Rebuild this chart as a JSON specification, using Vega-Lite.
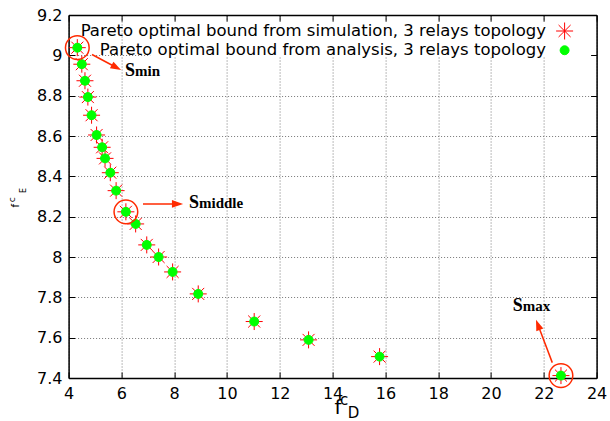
{
  "$schema": "https://vega.github.io/schema/vega-lite/v6.json",
  "width": 528,
  "height": 363,
  "autosize": {"type": "none"},
  "padding": {"left": 68.6, "top": 15, "right": 13.4, "bottom": 43},
  "background": "white",
  "config": {"view": {"stroke": null}},
  "datasets": {
    "pts": [
      {"series": "Pareto optimal bound from simulation, 3 relays topology", "fD": 4.33, "fE": 9.038},
      {"series": "Pareto optimal bound from simulation, 3 relays topology", "fD": 4.50, "fE": 8.956},
      {"series": "Pareto optimal bound from simulation, 3 relays topology", "fD": 4.62, "fE": 8.874},
      {"series": "Pareto optimal bound from simulation, 3 relays topology", "fD": 4.73, "fE": 8.793},
      {"series": "Pareto optimal bound from simulation, 3 relays topology", "fD": 4.87, "fE": 8.703},
      {"series": "Pareto optimal bound from simulation, 3 relays topology", "fD": 5.06, "fE": 8.605},
      {"series": "Pareto optimal bound from simulation, 3 relays topology", "fD": 5.27, "fE": 8.544},
      {"series": "Pareto optimal bound from simulation, 3 relays topology", "fD": 5.38, "fE": 8.489},
      {"series": "Pareto optimal bound from simulation, 3 relays topology", "fD": 5.58, "fE": 8.418},
      {"series": "Pareto optimal bound from simulation, 3 relays topology", "fD": 5.80, "fE": 8.329},
      {"series": "Pareto optimal bound from simulation, 3 relays topology", "fD": 6.17, "fE": 8.224},
      {"series": "Pareto optimal bound from simulation, 3 relays topology", "fD": 6.54, "fE": 8.164},
      {"series": "Pareto optimal bound from simulation, 3 relays topology", "fD": 6.96, "fE": 8.060},
      {"series": "Pareto optimal bound from simulation, 3 relays topology", "fD": 7.41, "fE": 8.000},
      {"series": "Pareto optimal bound from simulation, 3 relays topology", "fD": 7.94, "fE": 7.926},
      {"series": "Pareto optimal bound from simulation, 3 relays topology", "fD": 8.91, "fE": 7.817},
      {"series": "Pareto optimal bound from simulation, 3 relays topology", "fD": 11.03, "fE": 7.680},
      {"series": "Pareto optimal bound from simulation, 3 relays topology", "fD": 13.09, "fE": 7.589},
      {"series": "Pareto optimal bound from simulation, 3 relays topology", "fD": 15.78, "fE": 7.506},
      {"series": "Pareto optimal bound from simulation, 3 relays topology", "fD": 22.65, "fE": 7.412},
      {"series": "Pareto optimal bound from analysis, 3 relays topology", "fD": 4.33, "fE": 9.038, "note": "Smin"},
      {"series": "Pareto optimal bound from analysis, 3 relays topology", "fD": 4.50, "fE": 8.956},
      {"series": "Pareto optimal bound from analysis, 3 relays topology", "fD": 4.62, "fE": 8.874},
      {"series": "Pareto optimal bound from analysis, 3 relays topology", "fD": 4.73, "fE": 8.793},
      {"series": "Pareto optimal bound from analysis, 3 relays topology", "fD": 4.87, "fE": 8.703},
      {"series": "Pareto optimal bound from analysis, 3 relays topology", "fD": 5.06, "fE": 8.605},
      {"series": "Pareto optimal bound from analysis, 3 relays topology", "fD": 5.27, "fE": 8.544},
      {"series": "Pareto optimal bound from analysis, 3 relays topology", "fD": 5.38, "fE": 8.489},
      {"series": "Pareto optimal bound from analysis, 3 relays topology", "fD": 5.58, "fE": 8.418},
      {"series": "Pareto optimal bound from analysis, 3 relays topology", "fD": 5.80, "fE": 8.329},
      {"series": "Pareto optimal bound from analysis, 3 relays topology", "fD": 6.17, "fE": 8.224, "note": "Smiddle"},
      {"series": "Pareto optimal bound from analysis, 3 relays topology", "fD": 6.54, "fE": 8.164},
      {"series": "Pareto optimal bound from analysis, 3 relays topology", "fD": 6.96, "fE": 8.060},
      {"series": "Pareto optimal bound from analysis, 3 relays topology", "fD": 7.41, "fE": 8.000},
      {"series": "Pareto optimal bound from analysis, 3 relays topology", "fD": 7.94, "fE": 7.926},
      {"series": "Pareto optimal bound from analysis, 3 relays topology", "fD": 8.91, "fE": 7.817},
      {"series": "Pareto optimal bound from analysis, 3 relays topology", "fD": 11.03, "fE": 7.680},
      {"series": "Pareto optimal bound from analysis, 3 relays topology", "fD": 13.09, "fE": 7.589},
      {"series": "Pareto optimal bound from analysis, 3 relays topology", "fD": 15.78, "fE": 7.506},
      {"series": "Pareto optimal bound from analysis, 3 relays topology", "fD": 22.65, "fE": 7.412, "note": "Smax"}
    ]
  },
  "data": {"name": "pts"},
  "resolve": {"axis": {"x": "independent", "y": "independent"}},
  "layer": [
    {
      "data": {"values": [{}]},
      "mark": {"type": "rect", "fill": "white", "strokeWidth": 0},
      "encoding": {
        "x": {"datum": 7.09, "type": "quantitative", "scale": {"domain": [4, 24], "nice": false, "zero": false}, "axis": null},
        "x2": {"datum": 23.95},
        "y": {"datum": 9.165, "type": "quantitative", "scale": {"domain": [7.4, 9.2], "nice": false, "zero": false}, "axis": null},
        "y2": {"datum": 8.992}
      }
    },
    {
      "mark": {"type": "point", "filled": true, "strokeWidth": 1, "opacity": 1},
      "encoding": {
        "x": {"field": "fD", "type": "quantitative",
          "scale": {"domain": [4, 24], "nice": false, "zero": false},
          "axis": {"orient": "bottom", "title": null, "values": [4, 6, 8, 10, 12, 14, 16, 18, 20, 22, 24],
            "grid": true, "gridColor": "#777", "gridDash": [1, 2], "gridWidth": 1,
            "domain": true, "domainColor": "black", "domainWidth": 1.5,
            "ticks": true, "tickSize": -6, "tickColor": "black", "tickWidth": 1,
            "labelFont": "DejaVu Sans", "labelFontSize": 16, "labelColor": "black", "labelPadding": 13, "labelFlush": false}},
        "y": {"field": "fE", "type": "quantitative",
          "scale": {"domain": [7.4, 9.2], "nice": false, "zero": false},
          "axis": {"orient": "left", "title": null, "values": [7.4, 7.6, 7.8, 8, 8.2, 8.4, 8.6, 8.8, 9, 9.2], "format": "~g",
            "grid": true, "gridColor": "#777", "gridDash": [1, 2], "gridWidth": 1,
            "domain": true, "domainColor": "black", "domainWidth": 1.5,
            "ticks": true, "tickSize": -6, "tickColor": "black", "tickWidth": 1,
            "labelFont": "DejaVu Sans", "labelFontSize": 16, "labelColor": "black", "labelPadding": 12.6, "labelFlush": false}},
        "shape": {"field": "series", "type": "nominal",
          "scale": {"domain": ["Pareto optimal bound from simulation, 3 relays topology", "Pareto optimal bound from analysis, 3 relays topology"],
            "range": ["M-1,0L1,0M0,-1L0,1M-0.7071,-0.7071L0.7071,0.7071M-0.7071,0.7071L0.7071,-0.7071", "circle"]},
          "legend": {"orient": "none", "legendX": 487, "legendY": 7, "direction": "vertical", "title": null,
            "labelAlign": "right", "labelOffset": -27.6, "labelFont": "DejaVu Sans", "labelFontSize": 16.5, "labelColor": "black",
            "labelLimit": 0, "padding": 0, "rowPadding": -1, "symbolStrokeWidth": 1}},
        "fill": {"field": "series", "type": "nominal",
          "scale": {"domain": ["Pareto optimal bound from simulation, 3 relays topology", "Pareto optimal bound from analysis, 3 relays topology"],
            "range": ["#ff0000", "#00ff00"]},
          "legend": {"orient": "none", "legendX": 487, "legendY": 7, "direction": "vertical", "title": null,
            "labelAlign": "right", "labelOffset": -27.6, "labelFont": "DejaVu Sans", "labelFontSize": 16.5, "labelColor": "black",
            "labelLimit": 0, "padding": 0, "rowPadding": -1, "symbolStrokeWidth": 1}},
        "stroke": {"field": "series", "type": "nominal",
          "scale": {"domain": ["Pareto optimal bound from simulation, 3 relays topology", "Pareto optimal bound from analysis, 3 relays topology"],
            "range": ["#ff0000", "#00ff00"]},
          "legend": {"orient": "none", "legendX": 487, "legendY": 7, "direction": "vertical", "title": null,
            "labelAlign": "right", "labelOffset": -27.6, "labelFont": "DejaVu Sans", "labelFontSize": 16.5, "labelColor": "black",
            "labelLimit": 0, "padding": 0, "rowPadding": -1, "symbolStrokeWidth": 1}},
        "size": {"field": "series", "type": "nominal",
          "scale": {"domain": ["Pareto optimal bound from simulation, 3 relays topology", "Pareto optimal bound from analysis, 3 relays topology"],
            "range": [289, 80]},
          "legend": {"orient": "none", "legendX": 487, "legendY": 7, "direction": "vertical", "title": null,
            "labelAlign": "right", "labelOffset": -27.6, "labelFont": "DejaVu Sans", "labelFontSize": 16.5, "labelColor": "black",
            "labelLimit": 0, "padding": 0, "rowPadding": -1, "symbolStrokeWidth": 1}}
      }
    },
    {
      "transform": [{"filter": "datum.note != null"}],
      "mark": {"type": "point", "shape": "circle", "filled": false, "stroke": "#ff2a00", "strokeWidth": 1.5, "size": 560, "opacity": 1},
      "encoding": {
        "x": {"field": "fD", "type": "quantitative",
          "scale": {"domain": [4, 24], "nice": false, "zero": false},
          "axis": {"orient": "top", "title": null, "values": [4, 6, 8, 10, 12, 14, 16, 18, 20, 22, 24], "labels": false, "grid": false,
            "domain": true, "domainColor": "black", "domainWidth": 1.5, "zindex": 1,
            "ticks": true, "tickSize": -6, "tickColor": "black", "tickWidth": 1}},
        "y": {"field": "fE", "type": "quantitative",
          "scale": {"domain": [7.4, 9.2], "nice": false, "zero": false},
          "axis": {"orient": "right", "title": null, "values": [7.4, 7.6, 7.8, 8, 8.2, 8.4, 8.6, 8.8, 9, 9.2], "labels": false, "grid": false,
            "domain": true, "domainColor": "black", "domainWidth": 1.5, "zindex": 1,
            "ticks": true, "tickSize": -6, "tickColor": "black", "tickWidth": 1}}
      }
    },
    {
      "data": {"values": [{}]},
      "mark": {"type": "rule", "stroke": "#ff2a00", "strokeWidth": 1.5},
      "encoding": {
        "x": {"datum": 4.886, "type": "quantitative", "scale": {"domain": [4, 24], "nice": false, "zero": false}, "axis": null},
        "y": {"datum": 9.0042, "type": "quantitative", "scale": {"domain": [7.4, 9.2], "nice": false, "zero": false}, "axis": null},
        "x2": {"datum": 5.811},
        "y2": {"datum": 8.9397}
      }
    },
    {
      "data": {"values": [{}]},
      "mark": {"type": "point", "shape": "M1,0L-1,-0.7L-1,0.7Z", "filled": true, "fill": "#ff2a00", "strokeWidth": 0, "size": 115, "angle": 28, "opacity": 1},
      "encoding": {
        "x": {"datum": 5.811, "type": "quantitative", "scale": {"domain": [4, 24], "nice": false, "zero": false}, "axis": null},
        "y": {"datum": 8.9397, "type": "quantitative", "scale": {"domain": [7.4, 9.2], "nice": false, "zero": false}, "axis": null}
      }
    },
    {
      "data": {"values": [{}]},
      "mark": {"type": "rule", "stroke": "#ff2a00", "strokeWidth": 1.5},
      "encoding": {
        "x": {"datum": 6.818, "type": "quantitative", "scale": {"domain": [4, 24], "nice": false, "zero": false}, "axis": null},
        "y": {"datum": 8.263, "type": "quantitative", "scale": {"domain": [7.4, 9.2], "nice": false, "zero": false}, "axis": null},
        "x2": {"datum": 8.125},
        "y2": {"datum": 8.263}
      }
    },
    {
      "data": {"values": [{}]},
      "mark": {"type": "point", "shape": "M1,0L-1,-0.7L-1,0.7Z", "filled": true, "fill": "#ff2a00", "strokeWidth": 0, "size": 125, "angle": 0, "opacity": 1},
      "encoding": {
        "x": {"datum": 8.125, "type": "quantitative", "scale": {"domain": [4, 24], "nice": false, "zero": false}, "axis": null},
        "y": {"datum": 8.263, "type": "quantitative", "scale": {"domain": [7.4, 9.2], "nice": false, "zero": false}, "axis": null}
      }
    },
    {
      "data": {"values": [{}]},
      "mark": {"type": "rule", "stroke": "#ff2a00", "strokeWidth": 1.5},
      "encoding": {
        "x": {"datum": 22.322, "type": "quantitative", "scale": {"domain": [4, 24], "nice": false, "zero": false}, "axis": null},
        "y": {"datum": 7.4762, "type": "quantitative", "scale": {"domain": [7.4, 9.2], "nice": false, "zero": false}, "axis": null},
        "x2": {"datum": 21.777},
        "y2": {"datum": 7.6636}
      }
    },
    {
      "data": {"values": [{}]},
      "mark": {"type": "point", "shape": "M1,0L-1,-0.7L-1,0.7Z", "filled": true, "fill": "#ff2a00", "strokeWidth": 0, "size": 115, "angle": 249.1, "opacity": 1},
      "encoding": {
        "x": {"datum": 21.777, "type": "quantitative", "scale": {"domain": [4, 24], "nice": false, "zero": false}, "axis": null},
        "y": {"datum": 7.6636, "type": "quantitative", "scale": {"domain": [7.4, 9.2], "nice": false, "zero": false}, "axis": null}
      }
    },
    {
      "data": {"values": [{}]},
      "mark": {"type": "text", "text": "S", "font": "Liberation Serif", "fontWeight": "bold", "fontSize": 18, "align": "left", "baseline": "alphabetic", "color": "black"},
      "encoding": {
        "x": {"datum": 6.136, "type": "quantitative", "scale": {"domain": [4, 24], "nice": false, "zero": false}, "axis": null},
        "y": {"datum": 8.8976, "type": "quantitative", "scale": {"domain": [7.4, 9.2], "nice": false, "zero": false}, "axis": null}
      }
    },
    {
      "data": {"values": [{}]},
      "mark": {"type": "text", "text": "min", "font": "Liberation Serif", "fontWeight": "bold", "fontSize": 15, "align": "left", "baseline": "alphabetic", "dx": 10, "color": "black"},
      "encoding": {
        "x": {"datum": 6.136, "type": "quantitative", "scale": {"domain": [4, 24], "nice": false, "zero": false}, "axis": null},
        "y": {"datum": 8.8976, "type": "quantitative", "scale": {"domain": [7.4, 9.2], "nice": false, "zero": false}, "axis": null}
      }
    },
    {
      "data": {"values": [{}]},
      "mark": {"type": "text", "text": "S", "font": "Liberation Serif", "fontWeight": "bold", "fontSize": 18, "align": "left", "baseline": "alphabetic", "color": "black"},
      "encoding": {
        "x": {"datum": 8.561, "type": "quantitative", "scale": {"domain": [4, 24], "nice": false, "zero": false}, "axis": null},
        "y": {"datum": 8.2431, "type": "quantitative", "scale": {"domain": [7.4, 9.2], "nice": false, "zero": false}, "axis": null}
      }
    },
    {
      "data": {"values": [{}]},
      "mark": {"type": "text", "text": "middle", "font": "Liberation Serif", "fontWeight": "bold", "fontSize": 15, "align": "left", "baseline": "alphabetic", "dx": 10, "color": "black"},
      "encoding": {
        "x": {"datum": 8.561, "type": "quantitative", "scale": {"domain": [4, 24], "nice": false, "zero": false}, "axis": null},
        "y": {"datum": 8.2431, "type": "quantitative", "scale": {"domain": [7.4, 9.2], "nice": false, "zero": false}, "axis": null}
      }
    },
    {
      "data": {"values": [{}]},
      "mark": {"type": "text", "text": "S", "font": "Liberation Serif", "fontWeight": "bold", "fontSize": 18, "align": "left", "baseline": "alphabetic", "color": "black"},
      "encoding": {
        "x": {"datum": 20.822, "type": "quantitative", "scale": {"domain": [4, 24], "nice": false, "zero": false}, "axis": null},
        "y": {"datum": 7.734, "type": "quantitative", "scale": {"domain": [7.4, 9.2], "nice": false, "zero": false}, "axis": null}
      }
    },
    {
      "data": {"values": [{}]},
      "mark": {"type": "text", "text": "max", "font": "Liberation Serif", "fontWeight": "bold", "fontSize": 15, "align": "left", "baseline": "alphabetic", "dx": 10, "color": "black"},
      "encoding": {
        "x": {"datum": 20.822, "type": "quantitative", "scale": {"domain": [4, 24], "nice": false, "zero": false}, "axis": null},
        "y": {"datum": 7.734, "type": "quantitative", "scale": {"domain": [7.4, 9.2], "nice": false, "zero": false}, "axis": null}
      }
    },
    {
      "data": {"values": [{}]},
      "mark": {"type": "text", "text": "f", "font": "DejaVu Sans", "fontSize": 20, "align": "left", "baseline": "alphabetic", "color": "black"},
      "encoding": {
        "x": {"datum": 14.072, "type": "quantitative", "scale": {"domain": [4, 24], "nice": false, "zero": false}, "axis": null},
        "y": {"datum": 7.2218, "type": "quantitative", "scale": {"domain": [7.4, 9.2], "nice": false, "zero": false}, "axis": null}
      }
    },
    {
      "data": {"values": [{}]},
      "mark": {"type": "text", "text": "c", "font": "DejaVu Sans", "fontSize": 15, "align": "left", "baseline": "alphabetic", "color": "black"},
      "encoding": {
        "x": {"datum": 14.277, "type": "quantitative", "scale": {"domain": [4, 24], "nice": false, "zero": false}, "axis": null},
        "y": {"datum": 7.2664, "type": "quantitative", "scale": {"domain": [7.4, 9.2], "nice": false, "zero": false}, "axis": null}
      }
    },
    {
      "data": {"values": [{}]},
      "mark": {"type": "text", "text": "D", "font": "DejaVu Sans", "fontSize": 15, "align": "left", "baseline": "alphabetic", "color": "black"},
      "encoding": {
        "x": {"datum": 14.576, "type": "quantitative", "scale": {"domain": [4, 24], "nice": false, "zero": false}, "axis": null},
        "y": {"datum": 7.1995, "type": "quantitative", "scale": {"domain": [7.4, 9.2], "nice": false, "zero": false}, "axis": null}
      }
    },
    {
      "data": {"values": [{}]},
      "mark": {"type": "text", "text": "f", "font": "DejaVu Sans", "fontSize": 10, "align": "left", "baseline": "alphabetic", "angle": 270, "color": "black"},
      "encoding": {
        "x": {"datum": 2.1326, "type": "quantitative", "scale": {"domain": [4, 24], "nice": false, "zero": false}, "axis": null},
        "y": {"datum": 8.2456, "type": "quantitative", "scale": {"domain": [7.4, 9.2], "nice": false, "zero": false}, "axis": null}
      }
    },
    {
      "data": {"values": [{}]},
      "mark": {"type": "text", "text": "c", "font": "DejaVu Sans", "fontSize": 9, "align": "left", "baseline": "alphabetic", "angle": 270, "color": "black"},
      "encoding": {
        "x": {"datum": 1.9697, "type": "quantitative", "scale": {"domain": [4, 24], "nice": false, "zero": false}, "axis": null},
        "y": {"datum": 8.2714, "type": "quantitative", "scale": {"domain": [7.4, 9.2], "nice": false, "zero": false}, "axis": null}
      }
    },
    {
      "data": {"values": [{}]},
      "mark": {"type": "text", "text": "E", "font": "DejaVu Sans", "fontSize": 8, "align": "left", "baseline": "alphabetic", "angle": 270, "color": "black"},
      "encoding": {
        "x": {"datum": 2.3864, "type": "quantitative", "scale": {"domain": [4, 24], "nice": false, "zero": false}, "axis": null},
        "y": {"datum": 8.3175, "type": "quantitative", "scale": {"domain": [7.4, 9.2], "nice": false, "zero": false}, "axis": null}
      }
    }
  ]
}
